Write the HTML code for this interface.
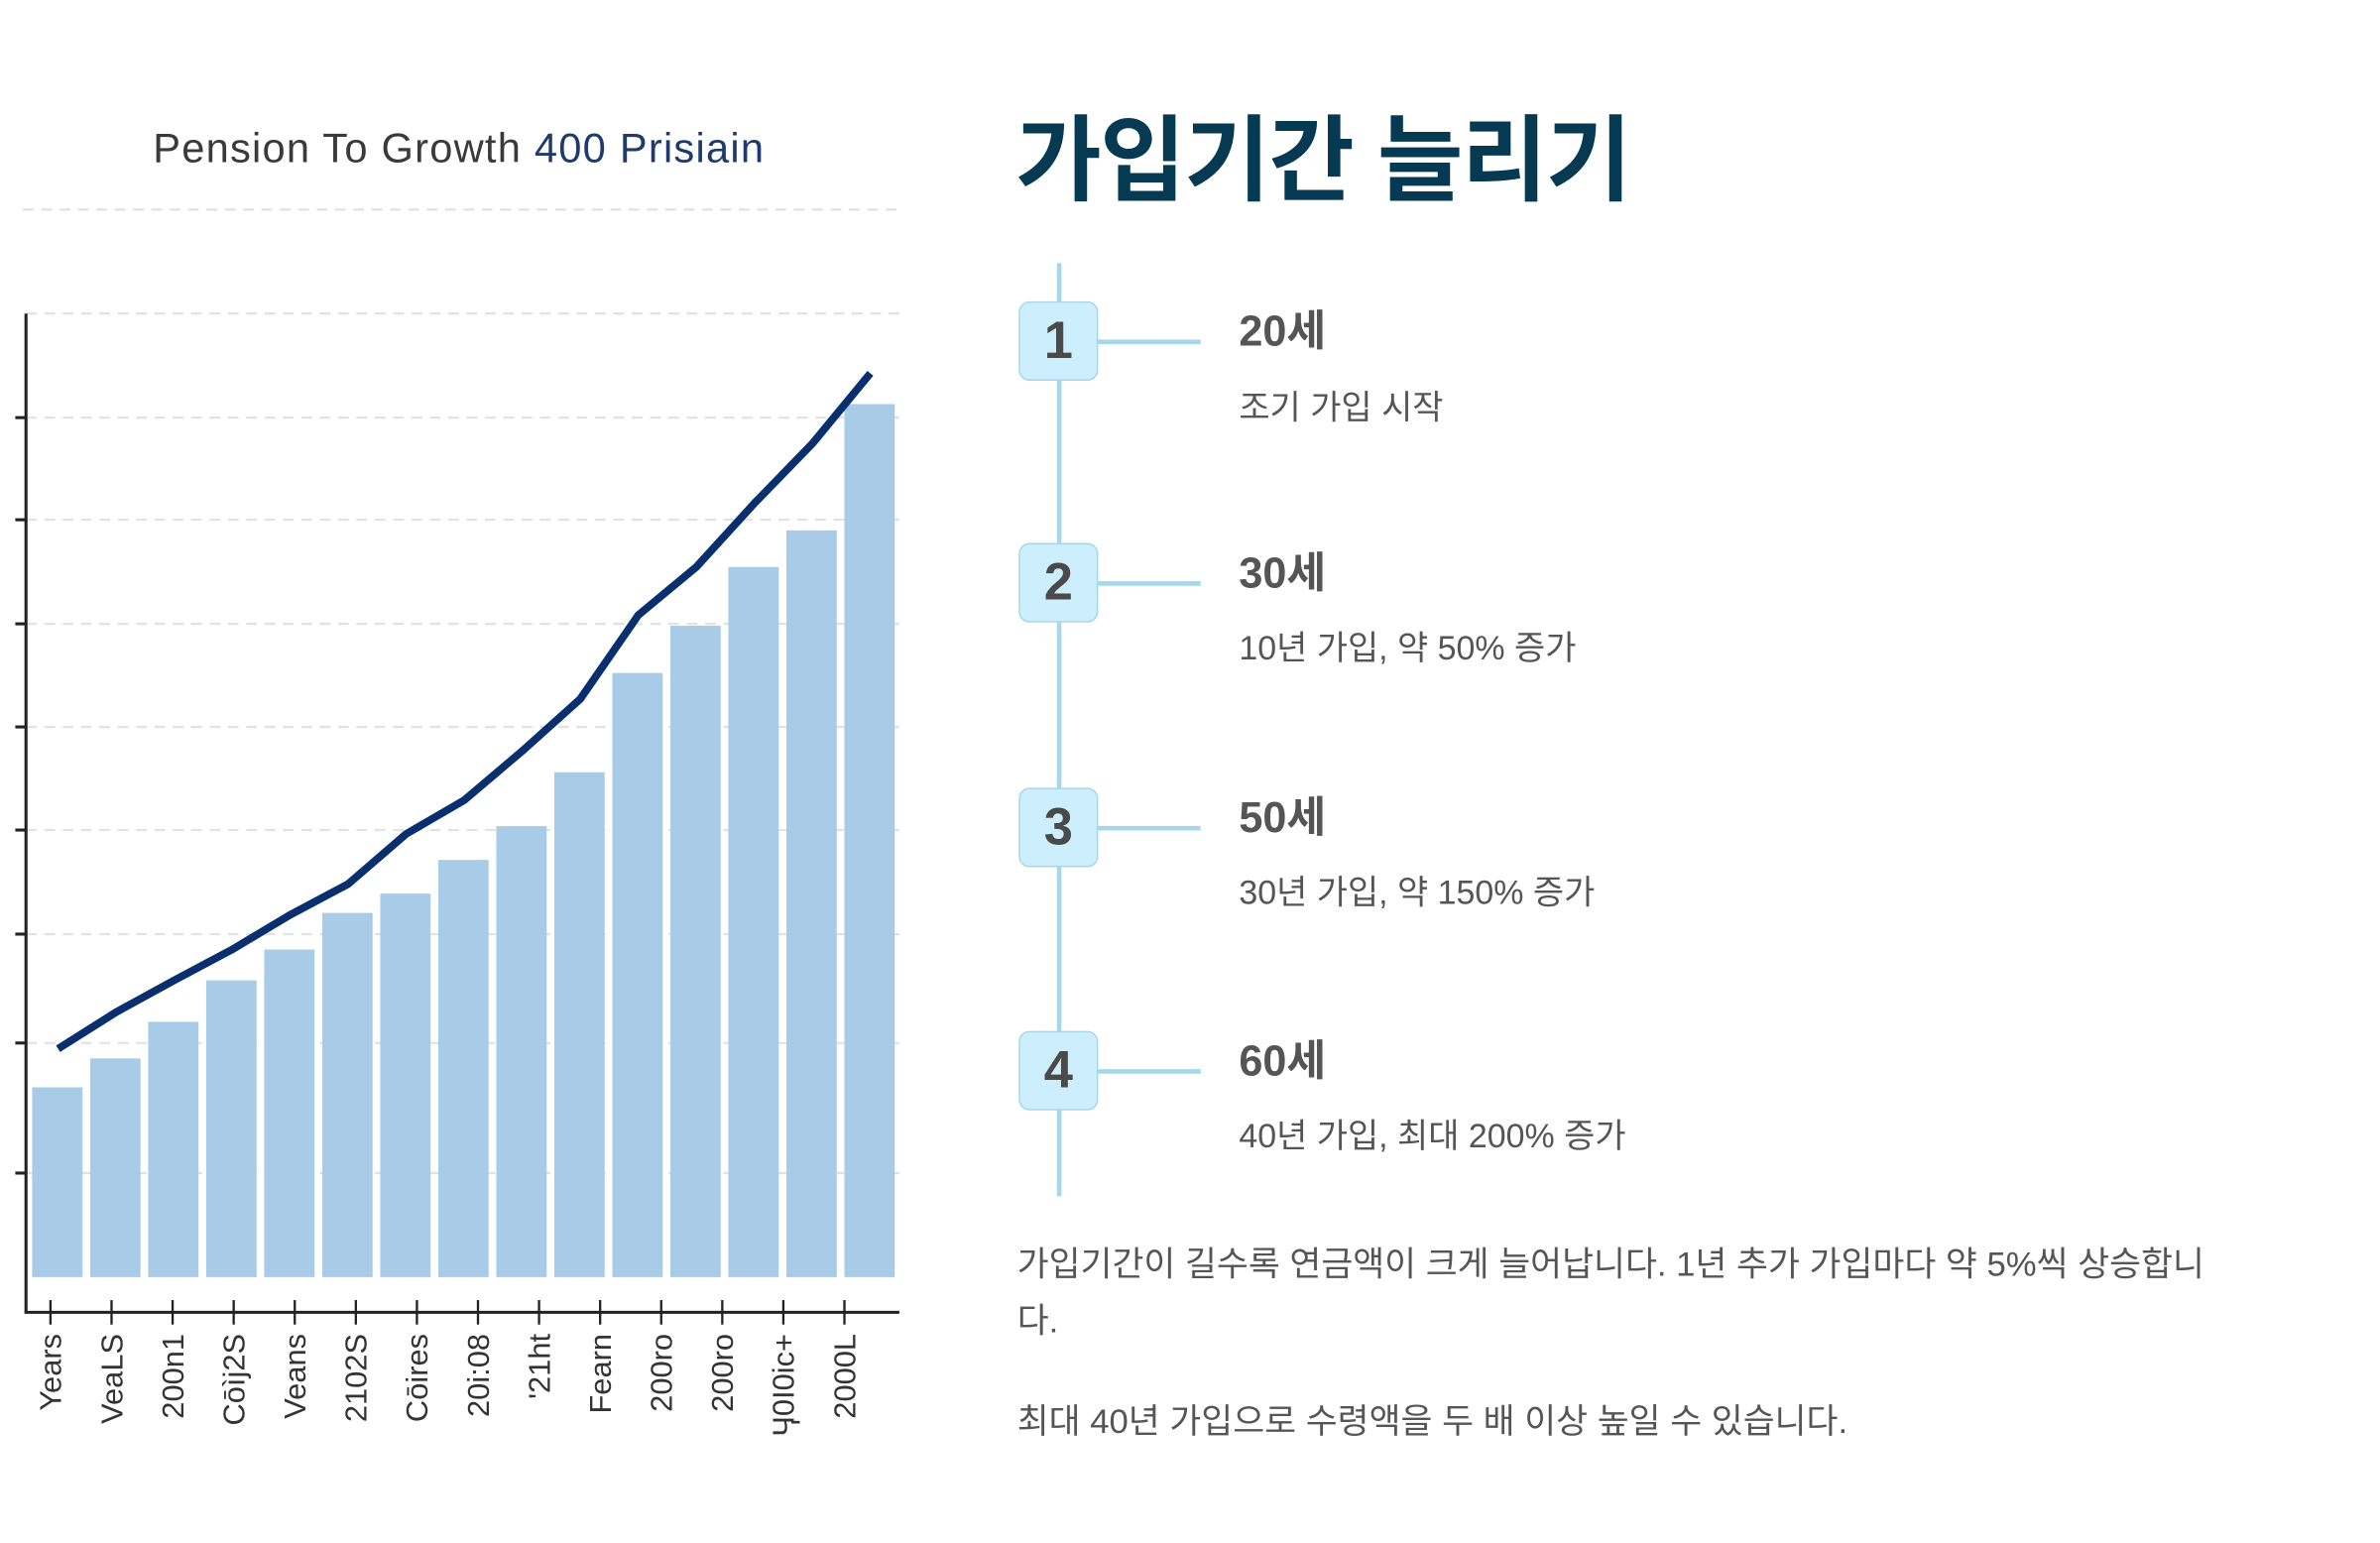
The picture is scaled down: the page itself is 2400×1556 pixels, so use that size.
<!DOCTYPE html>
<html><head><meta charset="utf-8">
<style>
html,body{margin:0;padding:0;background:#fff;}
body{width:2400px;height:1556px;overflow:hidden;}
#wrap{position:absolute;left:0;top:0;width:1556px;height:1009px;transform:scale(1.5424);transform-origin:0 0;font-family:"Liberation Sans","Noto Sans CJK KR",sans-serif;}
.abs{position:absolute;}
.badge{position:absolute;left:666px;width:50px;height:50px;background:#cdeefc;border:1.5px solid #a9d7ea;border-radius:7px;color:#4a4a4a;font-weight:bold;font-size:34px;text-align:center;line-height:50px;}
.conn{position:absolute;left:718px;width:67px;height:2.5px;background:#a9d7ea;}
.ttl{position:absolute;left:810px;font-weight:bold;font-size:28px;color:#555;}
.sub{position:absolute;left:810px;font-size:22px;color:#555;}
.para{position:absolute;left:665px;font-size:22.5px;color:#555;line-height:37px;width:800px;}
</style></head>
<body>
<div id="wrap">
<svg id="chart" class="abs" style="left:0;top:0" width="600" height="1009" viewBox="0 0 600 1009">
  <text x="300" y="106" text-anchor="middle" font-size="27" letter-spacing="0.8" font-family="Liberation Sans, sans-serif" fill="#3a3a3a">Pension To Growth <tspan fill="#1f3a6e">400 Prisiain</tspan></text>
  <line x1="15" y1="137" x2="588" y2="137" stroke="#e2e2e2" stroke-width="1.5" stroke-dasharray="7,5"/>
  <g id="grid"></g>
  <g id="bars"></g>
  <g id="line"></g>
  <g id="axes"></g>
  <g id="xlabels"></g>
</svg>

<div class="abs" style="left:664px;top:55px;font-size:61px;font-weight:bold;color:#053a52;letter-spacing:-1px;">가입기간 늘리기</div>

<div class="abs" style="left:691px;top:172px;width:2.5px;height:610px;background:#a9d7ea;"></div>

<div class="conn" style="top:222px"></div>
<div class="badge" style="top:197px">1</div>
<div class="ttl" style="top:195px">20세</div>
<div class="sub" style="top:249px">조기 가입 시작</div>

<div class="conn" style="top:380px"></div>
<div class="badge" style="top:355px">2</div>
<div class="ttl" style="top:353px">30세</div>
<div class="sub" style="top:406px">10년 가입, 약 50% 증가</div>

<div class="conn" style="top:540px"></div>
<div class="badge" style="top:515px">3</div>
<div class="ttl" style="top:513px">50세</div>
<div class="sub" style="top:566px">30년 가입, 약 150% 증가</div>

<div class="conn" style="top:699px"></div>
<div class="badge" style="top:674px">4</div>
<div class="ttl" style="top:672px">60세</div>
<div class="sub" style="top:725px">40년 가입, 최대 200% 증가</div>

<div class="para" style="top:808px">가입기간이 길수록 연금액이 크게 늘어납니다. 1년 추가 가입마다 약 5%씩 상승합니다.</div>
<div class="para" style="top:911px">최대 40년 가입으로 수령액을 두 배 이상 높일 수 있습니다.</div>
</div>

<script>
const categories = ["Years","VeaLS","200n1","Cōìj2S","Veans","2102S","Cōires","C2","20i:08","'21ht","Fearn","200ro","200ro","Ӌ0I0ic+","2000L"];
const barValues = [19.7,22.7,26.5,30.8,34,37.8,39.8,43.3,46.8,52.4,62.7,67.6,73.7,77.5,90.6];
const lineValues = [23.7,27.5,30.8,34,37.6,40.8,46,49.5,54.6,60,68.7,73.7,80.3,86.5,93.8];
const tickLabels = ["Years","VeaLS","200n1","Cōìj2S","Veans","2102S","Cōires","20i:08","'21ht","Fearn","200ro","200ro","Ӌ0I0ic+","2000L"];
const gridValues = [10.8,24.3,35.6,46.4,57.1,67.8,78.6,89.2,100];

const NS="http://www.w3.org/2000/svg";
const x0=19,x1=588,yBase=835,pxPer=6.3;
const band=(x1-x0)/categories.length;
function xBand(i){return x0+i*band;}
function xCenter(i){return x0+(i+0.5)*band;}
function yScale(v){return yBase-v*pxPer;}
function mk(tag,attrs,parent){const e=document.createElementNS(NS,tag);for(const k in attrs)e.setAttribute(k,attrs[k]);parent.appendChild(e);return e;}

const grid=document.getElementById('grid');
gridValues.forEach((v,i)=>{
  const l=mk('line',{x1:17,x2:588,y1:yScale(v),y2:yScale(v),stroke:'#e2e2e2','stroke-width':1.5,'stroke-dasharray':'7,5'},grid);
  
  
});
const bars=document.getElementById('bars');
barValues.forEach((v,i)=>{
  const r=mk('rect',{x:xBand(i)+2,y:yScale(v),width:band-5,height:yBase-yScale(v),fill:'#a8cbe8'},bars);
  
  
});
const lg=document.getElementById('line');
const pts=lineValues.map((v,i)=>xCenter(i)+','+yScale(v)).join(' ');
const pl=mk('polyline',{points:pts,fill:'none',stroke:'#0a2f6e','stroke-width':5,'stroke-linejoin':'round'},lg);



const axes=document.getElementById('axes');
const ya=mk('line',{x1:17,x2:17,y1:205,y2:858,stroke:'#222','stroke-width':2},axes);


const xa=mk('line',{x1:16,x2:588,y1:858,y2:858,stroke:'#222','stroke-width':2},axes);


gridValues.slice(0,8).forEach(v=>{
  const t=mk('line',{x1:10,x2:17,y1:yScale(v),y2:yScale(v),stroke:'#222','stroke-width':2},axes);
  
  
});
const xl=document.getElementById('xlabels');
tickLabels.forEach((s,i)=>{
  const x=x0+14+i*(x1-x0-10)/tickLabels.length;
  const t=mk('line',{x1:x,x2:x,y1:850,y2:866,stroke:'#222','stroke-width':1.5},axes);
  
  
  const tx=mk('text',{x:0,y:0,transform:'translate('+(x+7)+',872) rotate(-90)','text-anchor':'end','font-size':20,'font-family':'Liberation Sans, sans-serif',fill:'#333'},xl);
  tx.textContent=s;
  
  
});
</script>
</body></html>
